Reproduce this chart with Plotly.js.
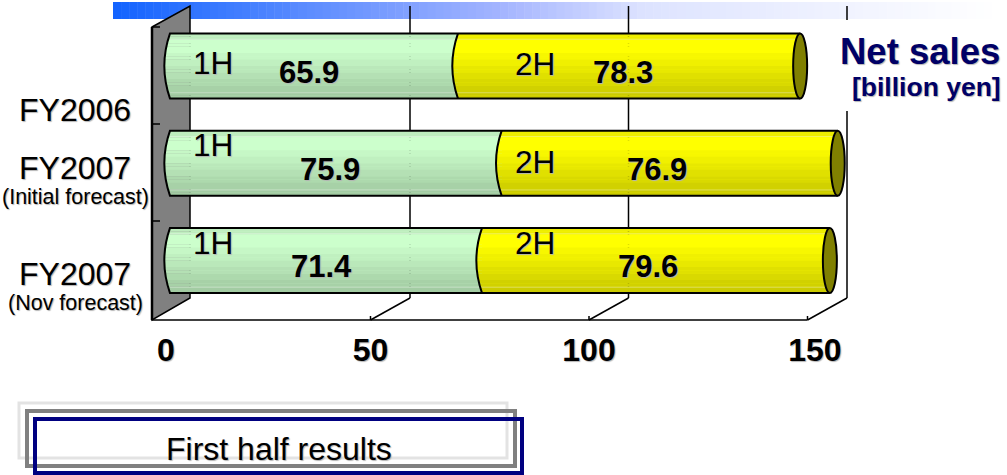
<!DOCTYPE html>
<html>
<head>
<meta charset="utf-8">
<script src="https://cdn.plot.ly/plotly-3.0.1.min.js"></script>
<style>html,body{margin:0;padding:0;background:#fff}#c{width:1007px;height:475px}</style>
</head>
<body>
<div id="c"></div>
<script>
// ---- chart values ----
const categories = ["FY2006", "FY2007", "FY2007"];
const subLabels = ["", "(Initial forecast)", "(Nov forecast)"];
const firstHalf = [65.9, 75.9, 71.4];
const secondHalf = [78.3, 76.9, 79.6];
const seriesNames = ["1H", "2H"];
const axisTickText = ["0", "50", "100", "150"];
const axisTickPositions = [3.2, 50, 100, 151.7];
const gridValues = [50, 100, 150];
const shades = [.93,.93,1,1,1,1,.97,.97,.94,.94,.91,.91,.88,.88,.85,.85,.82,.82,.8,.8];

// ---- page geometry ----
const W = 1007, H = 475;
const SCALE = 4.37, BAR0 = 170, FLOOR0 = 152, BACK0 = 190, GRIDBACK0 = 191.5;
const ROW = 97.25, ROW0 = 66;
const FLOORY = 320, BACKFLOORY = 298, TOPY = 6;
const HALF = 0.335;
const FONT = "Liberation Sans, Arial, sans-serif";
const SHADOW = "1px 1px 1px #b4b4b4";
const NAVY = "#000066";
const px = x => x / W, py = y => 1 - y / H;

const shapes = [];
const paper = {xref: "paper", yref: "paper", layer: "above"};
function rect(x0, y0, x1, y1, fill, line, lw) {
  shapes.push({...paper, type: "rect", x0: px(x0), x1: px(x1), y0: py(y0), y1: py(y1),
    fillcolor: fill || "rgba(0,0,0,0)", line: {width: lw || 0, color: line || "rgba(0,0,0,0)"}});
}
function seg(x0, y0, x1, y1, color, lw) {
  shapes.push({...paper, type: "line", x0: px(x0), x1: px(x1), y0: py(y0), y1: py(y1),
    line: {color: color || "#000", width: lw || 1.5}});
}

// top gradient ribbon
const STEPS = 110, RX0 = 113, RX1 = 1000;
const stops = [[0, 20, 100], [.44, 165, 181], [.6, 221, 227], [1, 255, 255]];
function ribbonColor(t) {
  for (let i = 1; i < stops.length; i++) {
    if (t <= stops[i][0]) {
      const a = stops[i - 1], b = stops[i], f = (t - a[0]) / (b[0] - a[0]);
      return `rgb(${Math.round(a[1] + (b[1] - a[1]) * f)},${Math.round(a[2] + (b[2] - a[2]) * f)},255)`;
    }
  }
  return "rgb(255,255,255)";
}
for (let i = 0; i < STEPS; i++) {
  rect(RX0 + (RX1 - RX0) * i / STEPS, 2, RX0 + (RX1 - RX0) * (i + 1) / STEPS + 0.5, 19, ribbonColor(i / (STEPS - 1)));
}

// floor & back-wall grid
seg(FLOOR0, FLOORY, FLOOR0 + 150 * SCALE, FLOORY, "#000", 1.5);
gridValues.forEach(v => {
  const f = FLOOR0 + v * SCALE, b = GRIDBACK0 + v * SCALE;
  seg(f, FLOORY, b, BACKFLOORY);
  seg(b, BACKFLOORY, b, TOPY);
  seg(f, FLOORY, f, FLOORY - 4);
});
// white plate behind the unit title
rect(832, 20, 1007, 111, "#fff");

// side wall
shapes.push({...paper, type: "path",
  path: `M${px(FLOOR0)},${py(27)} L${px(BACK0)},${py(TOPY)} L${px(BACK0)},${py(BACKFLOORY)} L${px(FLOOR0)},${py(FLOORY)} Z`,
  fillcolor: "#808080", line: {color: "#000", width: 1.5}});
seg(FLOOR0, 27, FLOOR0, FLOORY, "#000", 2.5);
[27, 124, 221].forEach(y => seg(FLOOR0, y, FLOOR0 + 8, y, "#000", 1.5));

// cylinder bands, all derived from the data through the x/y axes
const dataRef = {xref: "x", yref: "y", layer: "above"};
const BULGE = 2.6;              // control-point offset, in axis units
const CAP = 1.6;                // end-cap half width, in axis units
const curveAt = (base, t) => base - 2 * t * (1 - t) * BULGE;
function mix(base, s) { return `rgb(${base.map(c => Math.round(c * s))})`; }
const GREEN = [204, 255, 204], YELLOW = [255, 255, 0];

firstHalf.forEach((a, i) => {
  const total = a + secondHalf[i];
  const n = shades.length;
  for (let k = 0; k < n; k++) {
    const t0 = k / n, t1 = (k + 1) / n, tm = (t0 + t1) / 2;
    const y0 = i - HALF + 2 * HALF * t0, y1 = i - HALF + 2 * HALF * t1 + 0.002;
    shapes.push({...dataRef, type: "rect", x0: curveAt(0, tm), x1: curveAt(a, tm), y0, y1,
      fillcolor: mix(GREEN, shades[k]), line: {width: 0}});
    shapes.push({...dataRef, type: "rect", x0: curveAt(a, tm), x1: total, y0, y1,
      fillcolor: mix(YELLOW, shades[k]), line: {width: 0}});
  }
  // pale highlight lines
  [-HALF + 0.06, HALF - 0.06].forEach(d => {
    shapes.push({...dataRef, type: "line", x0: 0, x1: total, y0: i + d, y1: i + d,
      line: {color: "rgba(255,255,255,.35)", width: 1}});
  });
  const top = i - HALF, bot = i + HALF;
  const outline = `M${total},${top} L0,${top} Q${-BULGE},${i} 0,${bot} L${total},${bot}`;
  shapes.push({...dataRef, type: "path", path: outline, line: {color: "#000", width: 2}});
  shapes.push({...dataRef, type: "path", path: `M${a},${top} Q${a - BULGE},${i} ${a},${bot}`,
    line: {color: "#000", width: 2}});
  // end cap
  shapes.push({...dataRef, type: "circle", x0: total - CAP, x1: total + CAP, y0: top, y1: bot,
    fillcolor: "#808000", line: {color: "#000", width: 2}});
});

// frames behind the caption
rect(19, 403, 507, 458, null, "#e3e3e3", 3);
rect(27, 411, 515, 466, null, "#808080", 4);
rect(35, 419, 522, 473, null, "#000080", 4);

// ---- text ----
const anns = [];
function txt(text, x, y, size, opt) {
  opt = opt || {};
  anns.push({text, xref: "paper", yref: "paper", x: px(x), y: py(y), showarrow: false,
    xanchor: opt.anchor || "center", yanchor: "middle", align: "center",
    font: {family: FONT, size, color: opt.color || "#000", shadow: SHADOW, weight: opt.bold ? 700 : 400}});
}
const labelY = [110, 168, 274], subY = [0, 197, 303];
categories.forEach((c, i) => {
  txt(c, 75, labelY[i], 32);
  if (subLabels[i]) txt(subLabels[i], 75, subY[i], 21.5);
});
const oneHY = [63, 145, 243], twoHY = [64, 162, 243];
const firstShift = [-5, -6, -5], secondShift = [-6, -13, -8];
firstHalf.forEach((a, i) => {
  txt(seriesNames[0], 213, oneHY[i], 31.5);
  txt(seriesNames[1], 535, twoHY[i], 31.5);
  const b = secondHalf[i];
  anns.push({text: a.toFixed(1), x: a / 2, y: i, xref: "x", yref: "y", showarrow: false, xshift: firstShift[i], yshift: -6,
    font: {family: FONT, size: 31, weight: 700, color: "#000", shadow: SHADOW}});
  anns.push({text: b.toFixed(1), x: a + b / 2, y: i, xref: "x", yref: "y", showarrow: false, xshift: secondShift[i], yshift: -6,
    font: {family: FONT, size: 31, weight: 700, color: "#000", shadow: SHADOW}});
});
txt("Net sales", 1002, 52, 36.5, {anchor: "right", color: NAVY, bold: true});
txt("[billion yen]", 1003, 87, 26.5, {anchor: "right", color: NAVY, bold: true});
txt("First half results", 279, 449, 32);

// ---- traces ----
const yIdx = categories.map((_, i) => i);
const traces = [
  {type: "bar", orientation: "h", name: seriesNames[0], x: firstHalf, y: yIdx,
   marker: {color: "#CCFFCC"}, hoverinfo: "skip"},
  {type: "bar", orientation: "h", name: seriesNames[1], x: secondHalf, y: yIdx,
   marker: {color: "#FFFF00"}, hoverinfo: "skip"},
  {type: "scatter", mode: "markers", xaxis: "x2", yaxis: "y", x: [axisTickPositions[0]], y: [yIdx[0]],
   marker: {size: 1, opacity: 0}, hoverinfo: "skip", showlegend: false}
];

const layout = {
  width: W, height: H,
  margin: {l: 0, r: 0, t: 0, b: 0, pad: 0},
  paper_bgcolor: "#fff", plot_bgcolor: "#fff",
  showlegend: false,
  barmode: "stack",
  bargap: 1 - 2 * HALF,
  xaxis: {domain: [0, 1], range: [-BAR0 / SCALE, (W - BAR0) / SCALE], visible: false, fixedrange: true},
  xaxis2: {overlaying: "x", anchor: "free", position: py(FLOORY), side: "bottom",
    range: [-FLOOR0 / SCALE, (W - FLOOR0) / SCALE],
    tickmode: "array", tickvals: axisTickPositions, ticktext: axisTickText,
    ticks: "", showgrid: false, zeroline: false, showline: false, ticklabelstandoff: 8,
    tickfont: {family: FONT, size: 32, color: "#000", weight: 700, shadow: SHADOW}, fixedrange: true},
  yaxis: {domain: [0, 1], range: [(H - ROW0) / ROW, -ROW0 / ROW], visible: false, fixedrange: true},
  shapes, annotations: anns
};
Plotly.newPlot("c", traces, layout, {displayModeBar: false, staticPlot: true});
</script>
</body>
</html>
